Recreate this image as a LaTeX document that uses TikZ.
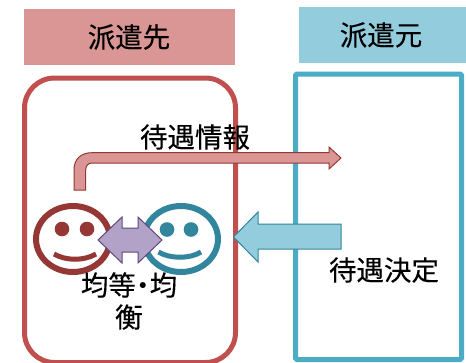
\documentclass[tikz,border=0pt]{standalone}
\usepackage{fontspec}
\setmainfont[FakeBold=0.2]{Noto Sans CJK JP}
\definecolor{pinkfill}{HTML}{D99694}
\definecolor{bluefill}{HTML}{93CDDD}
\definecolor{redline}{HTML}{C0504D}
\definecolor{blueline}{HTML}{4BACC6}
\definecolor{darkred}{HTML}{953735}
\definecolor{darkblue}{HTML}{31859C}
\definecolor{purplefill}{HTML}{B2A2C7}
\definecolor{purpleline}{HTML}{5F497A}
\tikzset{
  label/.style={font=\fontsize{27.5}{33}\selectfont,text=black,inner sep=0pt,align=center},
  pinkarrow/.style={fill=pinkfill,draw=darkred,line width=1pt,line join=miter},
  bluearrow/.style={fill=bluefill,draw=darkblue,line width=1pt,line join=miter},
  purplearrow/.style={fill=purplefill,draw=purpleline,line width=1pt,line join=miter},
  facering/.style={line width=6pt,fill=white},
  smile/.style={line width=5pt}
}
\begin{document}
\begin{tikzpicture}[x=1pt,y=-1pt]
\path[use as bounding box] (0,0) rectangle (466,362);
\clip (0,0) rectangle (466,362);
\fill[white] (0,0) rectangle (466,362);
% headers
\fill[pinkfill] (24,9) rectangle (235,65);
\fill[bluefill] (299,7) rectangle (466,63);
\node[label] (sakiLabel) at (129,37) {派遣先};
\node[label] (motoLabel) at (381,35) {派遣元};
% frames
\draw[redline,line width=5pt,rounded corners=30pt] (24.5,78) rectangle (235.5,362.5);
\draw[blueline,line width=5pt,rounded corners=1.5pt] (295.5,74) rectangle (461.5,359.5);
% faces
\draw[darkred,facering] (73,239) ellipse [x radius=37,y radius=33];
\fill[darkred] (62,229) circle (7.3) (87,229) circle (7.3);
\draw[darkred,smile] (54,254) .. controls (66,261) and (84,261) .. (96,254);
\draw[darkblue,facering] (181,239) ellipse [x radius=37,y radius=33];
\fill[darkblue] (167,229.5) circle (7.3) (191,229.5) circle (7.3);
\draw[darkblue,smile] (158.5,252) .. controls (170,259) and (190,259) .. (201,252);
% elbow arrow
\draw[pinkarrow] (74,190) -- (74,170) .. controls (74,159) and (81,152.7) .. (92,152.7)
  -- (329,152.7) -- (329,147) -- (341,158) -- (329,169) -- (329,163) -- (92,163)
  .. controls (88,163) and (85.7,166) .. (85.7,170) -- (85.7,190) -- cycle;
% block arrows
\draw[bluearrow] (341,224) -- (258,224) -- (258,212) -- (233.5,237) -- (258,262) -- (258,249) -- (341,249) -- cycle;
\draw[purplearrow] (98,240) -- (122,217) -- (122,228) -- (138,228) -- (138,217) -- (162,240)
  -- (138,263) -- (138,252) -- (122,252) -- (122,263) -- cycle;
% labels
\node[label] (infoLabel) at (195,137) {待遇情報};
\node[label] (decisionLabel) at (384,270) {待遇決定};
\node[label] (equalLabel) at (129,301) {均等\kern-.25em・\kern-.25em均\\[-1pt]衡};
\end{tikzpicture}
\end{document}
